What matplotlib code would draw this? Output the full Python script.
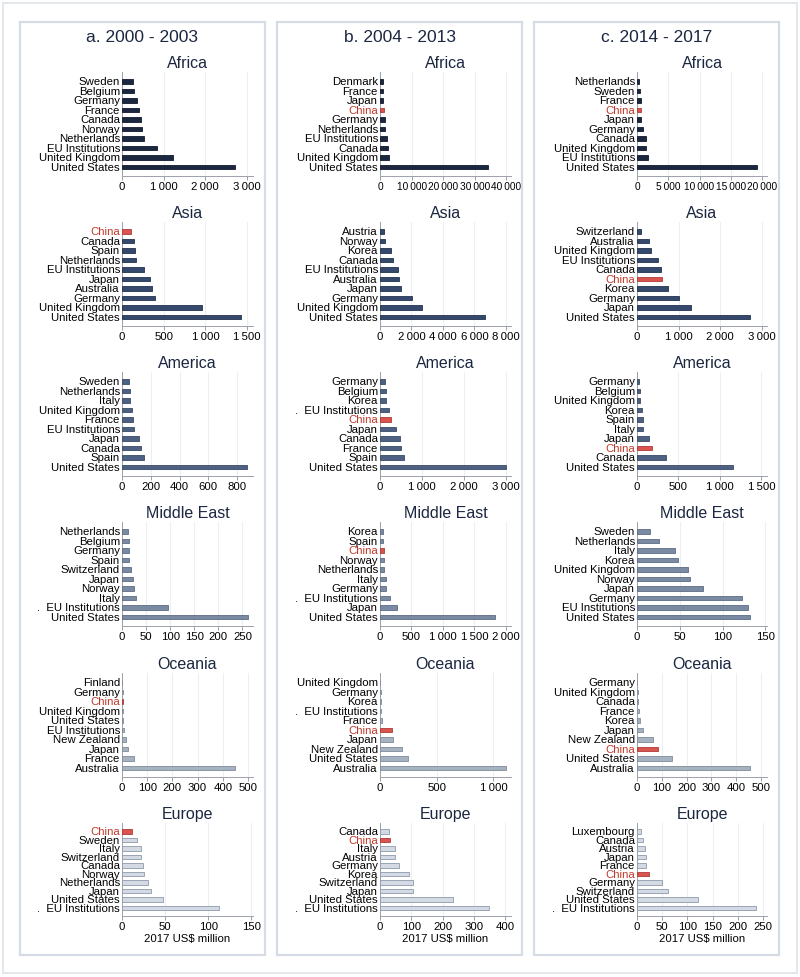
import matplotlib
matplotlib.use("Agg")
import matplotlib.pyplot as plt
from matplotlib.patches import Rectangle

plt.rcParams['font.family'] = ['Liberation Sans', 'DejaVu Sans']

W, H = 800, 977
EU_DOT = ".  EU Institutions"

periods = ["a. 2000 - 2003", "b. 2004 - 2013", "c. 2014 - 2017"]
regions = ["Africa", "Asia", "America", "Middle East", "Oceania", "Europe"]

# ---- a. 2000 - 2003 (donors top to bottom, 2017 US$ million) ----
africa_a_donors = ["Sweden", "Belgium", "Germany", "France", "Canada", "Norway",
                   "Netherlands", "EU Institutions", "United Kingdom", "United States"]
africa_a_values = [272, 296, 368, 416, 448, 480, 528, 847, 1230, 2710]
africa_a_ticks = [0, 1000, 2000, 3000]

asia_a_donors = ["China", "Canada", "Spain", "Netherlands", "EU Institutions", "Japan",
                 "Australia", "Germany", "United Kingdom", "United States"]
asia_a_values = [108, 148, 152, 168, 264, 336, 356, 392, 959, 1423]
asia_a_ticks = [0, 500, 1000, 1500]

america_a_donors = ["Sweden", "Netherlands", "Italy", "United Kingdom", "France",
                    "EU Institutions", "Japan", "Canada", "Spain", "United States"]
america_a_values = [49, 56, 58, 67, 74, 84, 121, 130, 154, 871]
america_a_ticks = [0, 200, 400, 600, 800]

mideast_a_donors = ["Netherlands", "Belgium", "Germany", "Spain", "Switzerland", "Japan",
                    "Norway", "Italy", EU_DOT, "United States"]
mideast_a_values = [13, 14, 15, 15, 19, 23, 25, 29, 95, 262]
mideast_a_ticks = [0, 50, 100, 150, 200, 250]

oceania_a_donors = ["Finland", "Germany", "China", "United Kingdom", "United States",
                    "EU Institutions", "New Zealand", "Japan", "France", "Australia"]
oceania_a_values = [1, 2, 3, 4, 5, 6, 15, 25, 49, 448]
oceania_a_ticks = [0, 100, 200, 300, 400, 500]

europe_a_donors = ["China", "Sweden", "Italy", "Switzerland", "Canada", "Norway",
                   "Netherlands", "Japan", "United States", EU_DOT]
europe_a_values = [12, 17.5, 22, 22.6, 24.5, 26, 30, 33.5, 47, 112]
europe_a_ticks = [0, 50, 100, 150]

# ---- b. 2004 - 2013 ----
africa_b_donors = ["Denmark", "France", "Japan", "China", "Germany", "Netherlands",
                   "EU Institutions", "Canada", "United Kingdom", "United States"]
africa_b_values = [850, 1000, 1060, 1280, 1450, 1490, 2340, 2550, 2980, 34300]
africa_b_ticks = [0, 10000, 20000, 30000, 40000]

asia_b_donors = ["Austria", "Norway", "Korea", "Canada", "EU Institutions", "Australia",
                 "Japan", "Germany", "United Kingdom", "United States"]
asia_b_values = [280, 340, 720, 850, 1170, 1190, 1360, 2020, 2660, 6640]
asia_b_ticks = [0, 2000, 4000, 6000, 8000]

america_b_donors = ["Germany", "Belgium", "Korea", EU_DOT, "China", "Japan",
                    "Canada", "France", "Spain", "United States"]
america_b_values = [122, 138, 154, 211, 260, 381, 470, 503, 560, 2990]
america_b_ticks = [0, 1000, 2000, 3000]

mideast_b_donors = ["Korea", "Spain", "China", "Norway", "Netherlands", "Italy",
                    "Germany", EU_DOT, "Japan", "United States"]
mideast_b_values = [49, 54, 60, 65, 70, 90, 92, 151, 270, 1827]
mideast_b_ticks = [0, 500, 1000, 1500, 2000]

oceania_b_donors = ["United Kingdom", "Germany", "Korea", EU_DOT, "France", "China",
                    "Japan", "New Zealand", "United States", "Australia"]
oceania_b_values = [3, 6, 10, 12, 21, 108, 114, 198, 249, 1108]
oceania_b_ticks = [0, 500, 1000]

europe_b_donors = ["Canada", "China", "Italy", "Austria", "Germany", "Korea",
                   "Switzerland", "Japan", "United States", EU_DOT]
europe_b_values = [29, 31, 48, 49, 60, 93, 104, 107, 232, 348]
europe_b_ticks = [0, 100, 200, 300, 400]

# ---- c. 2014 - 2017 ----
africa_c_donors = ["Netherlands", "Sweden", "France", "China", "Japan", "Germany",
                   "Canada", "United Kingdom", "EU Institutions", "United States"]
africa_c_values = [370, 480, 590, 640, 650, 960, 1390, 1440, 1700, 19200]
africa_c_ticks = [0, 5000, 10000, 15000, 20000]

asia_c_donors = ["Switzerland", "Australia", "United Kingdom", "EU Institutions", "Canada",
                 "China", "Korea", "Germany", "Japan", "United States"]
asia_c_values = [88, 296, 344, 504, 584, 600, 736, 1008, 1288, 2704]
asia_c_ticks = [0, 1000, 2000, 3000]

america_c_donors = ["Germany", "Belgium", "United Kingdom", "Korea", "Spain", "Italy",
                    "Japan", "China", "Canada", "United States"]
america_c_values = [28, 32, 40, 64, 68, 72, 144, 176, 348, 1160]
america_c_ticks = [0, 500, 1000, 1500]

mideast_c_donors = ["Sweden", "Netherlands", "Italy", "Korea", "United Kingdom", "Norway",
                    "Japan", "Germany", "EU Institutions", "United States"]
mideast_c_values = [15, 26, 45, 48, 60, 62, 77, 123, 130, 132]
mideast_c_ticks = [0, 50, 100, 150]

oceania_c_donors = ["Germany", "United Kingdom", "Canada", "France", "Korea", "Japan",
                    "New Zealand", "China", "United States", "Australia"]
oceania_c_values = [2, 3, 4, 10, 11, 23, 64, 86, 141, 456]
oceania_c_ticks = [0, 100, 200, 300, 400, 500]

europe_c_donors = ["Luxembourg", "Canada", "Austria", "Japan", "France", "China",
                   "Germany", "Switzerland", "United States", EU_DOT]
europe_c_values = [8, 11, 15, 18, 18, 23, 49, 61, 121, 237]
europe_c_ticks = [0, 50, 100, 150, 200, 250]

panels = [
    [(africa_a_donors, africa_a_values, africa_a_ticks),
     (africa_b_donors, africa_b_values, africa_b_ticks),
     (africa_c_donors, africa_c_values, africa_c_ticks)],
    [(asia_a_donors, asia_a_values, asia_a_ticks),
     (asia_b_donors, asia_b_values, asia_b_ticks),
     (asia_c_donors, asia_c_values, asia_c_ticks)],
    [(america_a_donors, america_a_values, america_a_ticks),
     (america_b_donors, america_b_values, america_b_ticks),
     (america_c_donors, america_c_values, america_c_ticks)],
    [(mideast_a_donors, mideast_a_values, mideast_a_ticks),
     (mideast_b_donors, mideast_b_values, mideast_b_ticks),
     (mideast_c_donors, mideast_c_values, mideast_c_ticks)],
    [(oceania_a_donors, oceania_a_values, oceania_a_ticks),
     (oceania_b_donors, oceania_b_values, oceania_b_ticks),
     (oceania_c_donors, oceania_c_values, oceania_c_ticks)],
    [(europe_a_donors, europe_a_values, europe_a_ticks),
     (europe_b_donors, europe_b_values, europe_b_ticks),
     (europe_c_donors, europe_c_values, europe_c_ticks)],
]

# axis upper limits (layout), per row / column
xmax = [
    [3150, 41500, 20800],
    [1570, 8320, 3120],
    [910, 3120, 1568],
    [272, 2080, 152],
    [520, 1155, 525],
    [152, 419, 258],
]

# styling
NAVY = "#1b2640"
RED_BAR = "#d9534f"
RED_TXT = "#c0392b"
region_fill = ["#1b2840", "#34496b", "#4f6182", "#7b8aa3", "#a7b2c1", "#d3dae3"]
region_edge = ["#101a2e", "#22324f", "#3a4a66", "#5d6c85", "#7f8b9c", "#8e9aab"]
FRAME = "#d6dce5"

col_x = [(122, 253), (380, 511), (637, 767)]
row_y = [(72, 176), (222, 326), (372, 476), (522, 626), (673, 777), (823, 916)]
panel_box = [(20, 265), (277, 522), (534, 779)]

fig = plt.figure(figsize=(W / 100, H / 100), dpi=100)
fig.patch.set_facecolor("white")

# outer frame and the three period frames
fig.add_artist(Rectangle((3 / W, 1 - 973 / H), 794 / W, 970 / H, transform=fig.transFigure,
                         fill=False, ec="#dfe3e8", lw=1.2))
for (x0, x1) in panel_box:
    fig.add_artist(Rectangle((x0 / W, 1 - 955 / H), (x1 - x0) / W, 933 / H,
                             transform=fig.transFigure, fill=False, ec=FRAME, lw=1.6))

for c, title in enumerate(periods):
    x0, x1 = panel_box[c]
    fig.text((x0 + x1) / 2 / W, 1 - 37 / H, title, ha="center", va="center",
             fontsize=12.5, color=NAVY)


def fmt(v):
    # thousands separated by a thin space, as in the original
    return f"{v:,}".replace(",", "\u2009")


for r, region in enumerate(regions):
    y0, y1 = row_y[r]
    for c in range(3):
        donors, values, ticks = panels[r][c]
        x0, x1 = col_x[c]
        ax = fig.add_axes([x0 / W, 1 - y1 / H, (x1 - x0) / W, (y1 - y0) / H])
        ypos = list(range(len(donors)))
        fills = [RED_BAR if d == "China" else region_fill[r] for d in donors]
        edges = ["#b03a36" if d == "China" else region_edge[r] for d in donors]
        ax.barh(ypos, values, height=0.5, color=fills, edgecolor=edges, linewidth=0.6,
                zorder=3)
        ax.set_ylim(len(donors) - 0.05, -1.0)
        ax.set_xlim(0, xmax[r][c])
        ax.set_yticks(ypos)
        ax.set_yticklabels(donors, fontsize=8.2)
        for lab in ax.get_yticklabels():
            lab.set_color(RED_TXT if lab.get_text() == "China" else "black")
        labels = [fmt(t) for t in ticks]
        long_labels = max(len(s) for s in labels) >= 6
        ax.set_xticks(ticks)
        ax.set_xticklabels(labels, fontsize=7.3 if long_labels else 8.2)
        ax.tick_params(axis="y", length=0, pad=1.5)
        ax.tick_params(axis="x", length=3, width=0.6, color="#8a8f98", pad=1.5)
        ax.grid(axis="x", color="#eceef2", lw=0.8, zorder=0)
        for s in ("top", "right"):
            ax.spines[s].set_visible(False)
        for s in ("left", "bottom"):
            ax.spines[s].set_color("#9ba1aa")
            ax.spines[s].set_linewidth(0.7)
        ax.set_title(region, fontsize=11.5, color=NAVY, pad=3)
        if region == "Europe":
            ax.set_xlabel(r"2017 US\$ million", fontsize=8.2, labelpad=1)

fig.savefig("out.png", dpi=100, facecolor="white")
